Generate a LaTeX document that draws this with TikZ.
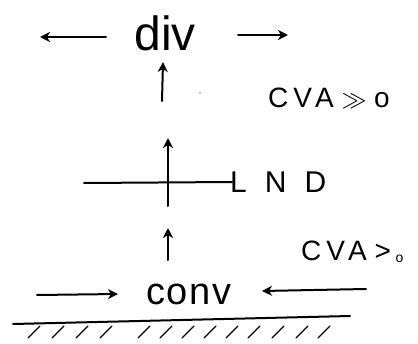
\documentclass[tikz,border=0pt]{standalone}
\usepackage{fontspec}
\setmainfont{Liberation Sans}
\usetikzlibrary{arrows.meta}
\begin{document}
\begin{tikzpicture}[x=1pt,y=-1pt,
  pen/.style={line width=2pt,line cap=round},
  arr/.style={pen,-{Stealth[length=10pt,width=10pt,inset=3pt]}},
  lbl/.style={inner sep=0pt,anchor=west}]
\useasboundingbox (0,0) rectangle (418,343);
% top: div
\node[inner sep=0pt] (div) at (165,33) {\fontsize{48}{48}\selectfont div};
\coordinate (dl) at (40,37);
\coordinate (dr) at (288,35);
\coordinate (dls) at (106,37);
\coordinate (drs) at (238,35);
\draw[arr] (dls) -- (dl);
\draw[arr] (drs) -- (dr);
% upward arrow under div
\coordinate (u1s) at (162,101);
\coordinate (u1e) at (163,62);
\draw[arr] (u1s) -- (u1e);
\fill (200,93) circle (0.7pt);
\node[lbl] (cva1) at (268,98) {\fontsize{28}{28}\selectfont\addfontfeature{LetterSpace=18}CVA\;$\gg$\;o};
% LND cross
\coordinate (hl) at (84,183);
\coordinate (hr) at (232,182);
\coordinate (vb) at (168,206);
\coordinate (vt) at (168,138);
\draw[pen] (hl) -- (hr);
\draw[arr] (vb) -- (vt);
\node[lbl] (lnd) at (230,182) {\fontsize{30}{30}\selectfont\addfontfeature{LetterSpace=60}LND};
% small arrow
\coordinate (u2s) at (168,260);
\coordinate (u2e) at (168,228);
\draw[arr] (u2s) -- (u2e);
\node[lbl] (cva2) at (301,252) {\fontsize{28}{28}\selectfont\addfontfeature{LetterSpace=18}CVA\;>\,\raisebox{-2pt}{\fontsize{14}{14}\selectfont o}};
% conv
\node[inner sep=0pt] (conv) at (189,294) {\fontsize{38}{38}\selectfont\addfontfeature{LetterSpace=5}conv};
\coordinate (cl) at (37,295);
\coordinate (cr) at (366,289);
\coordinate (clh) at (118,294);
\coordinate (crh) at (262,291);
\draw[arr] (cl) -- (clh);
\draw[arr] (cr) -- (crh);
% ground
\coordinate (g1) at (13,324);
\coordinate (g2) at (350,316);
\draw[pen] (g1) -- (g2);
\foreach \x in {28,52,76,100,138,160,182,204,226,248,272,296,318}
  \draw[line width=1.4pt,line cap=round] (\x,338) -- ++(12,-12);
\end{tikzpicture}
\end{document}
